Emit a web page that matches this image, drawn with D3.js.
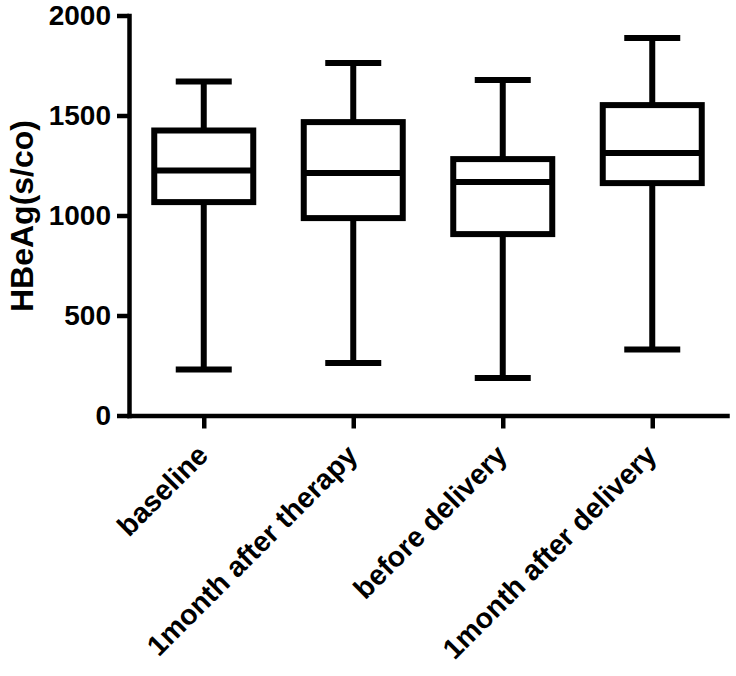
<!DOCTYPE html>
<html>
<head>
<meta charset="utf-8">
<script src="https://cdn.jsdelivr.net/npm/d3@7"></script>
<style>
  body { margin: 0; background: #fff; }
  text { font-family: "Liberation Sans", Arial, sans-serif; font-weight: bold; }
</style>
</head>
<body>
<script>
// chart size
var width = 736;
var height = 676;

// data
var groups = ['baseline', '1month after therapy', 'before delivery', '1month after delivery'];
var mins = [230, 262, 187, 330];
var q1s = [1067, 987, 907, 1162];
var medians = [1225, 1212, 1167, 1312];
var q3s = [1425, 1467, 1282, 1552];
var maxs = [1670, 1762, 1677, 1887];
var yTicks = [0, 500, 1000, 1500, 2000];

var boxes = groups.map(function(g, i) {
  return { name: g, min: mins[i], q1: q1s[i], med: medians[i], q3: q3s[i], max: maxs[i] };
});

var svg = d3.select('body').append('svg')
  .attr('width', width).attr('height', height);

// scales
var x = d3.scalePoint().domain(groups).range([129, 727]).padding(0.5);
var y = d3.scaleLinear().domain([0, 2000]).range([415.5, 15.5]);

var lw = 6;      // line width of the boxes
var boxW = 99;
var capW = 56;

// boxes
var g = svg.selectAll('.box').data(boxes).enter().append('g')
  .attr('class', 'box')
  .attr('fill', 'none').attr('stroke', '#000').attr('stroke-width', lw);

// whiskers
g.append('line').attr('x1', d => x(d.name)).attr('x2', d => x(d.name))
  .attr('y1', d => y(d.q3)).attr('y2', d => y(d.max));
g.append('line').attr('x1', d => x(d.name)).attr('x2', d => x(d.name))
  .attr('y1', d => y(d.q1)).attr('y2', d => y(d.min));
// caps
g.append('line').attr('x1', d => x(d.name) - capW / 2).attr('x2', d => x(d.name) + capW / 2)
  .attr('y1', d => y(d.max)).attr('y2', d => y(d.max));
g.append('line').attr('x1', d => x(d.name) - capW / 2).attr('x2', d => x(d.name) + capW / 2)
  .attr('y1', d => y(d.min)).attr('y2', d => y(d.min));
// box
g.append('rect').attr('x', d => x(d.name) - boxW / 2).attr('width', boxW)
  .attr('y', d => y(d.q3)).attr('height', d => y(d.q1) - y(d.q3))
  .attr('fill', '#fff');
// median
g.append('line').attr('x1', d => x(d.name) - boxW / 2).attr('x2', d => x(d.name) + boxW / 2)
  .attr('y1', d => y(d.med)).attr('y2', d => y(d.med));

// y axis
var yAxis = svg.append('g').attr('transform', 'translate(129,0)')
  .call(d3.axisLeft(y).tickValues(yTicks).tickFormat(d3.format('d'))
    .tickSize(12).tickSizeOuter(0).tickPadding(6));
yAxis.select('.domain').attr('stroke-width', 4.5).attr('stroke-linecap', 'square');
yAxis.selectAll('.tick line').attr('stroke-width', 4.5);
yAxis.selectAll('.tick text').attr('font-size', 28).attr('fill', '#000')
  .attr('font-family', '"Liberation Sans", Arial, sans-serif').attr('font-weight', 'bold');

// x axis
var xAxis = svg.append('g').attr('transform', 'translate(0,415.5)')
  .call(d3.axisBottom(x).tickSize(13).tickSizeOuter(0).tickFormat(''));
xAxis.select('.domain').attr('stroke-width', 4.5).attr('stroke-linecap', 'square');
xAxis.selectAll('.tick line').attr('stroke-width', 4.5);

// rotated category labels
svg.selectAll('.xlab').data(groups).enter().append('text')
  .attr('class', 'xlab')
  .attr('transform', d => 'translate(' + (x(d) + 6) + ',457) rotate(-45)')
  .attr('text-anchor', 'end')
  .attr('font-size', 28.5)
  .text(d => d);

// y axis title
svg.append('text')
  .attr('transform', 'translate(33,216) rotate(-90)')
  .attr('text-anchor', 'middle')
  .attr('font-size', 32)
  .text('HBeAg(s/co)');
</script>
</body>
</html>
